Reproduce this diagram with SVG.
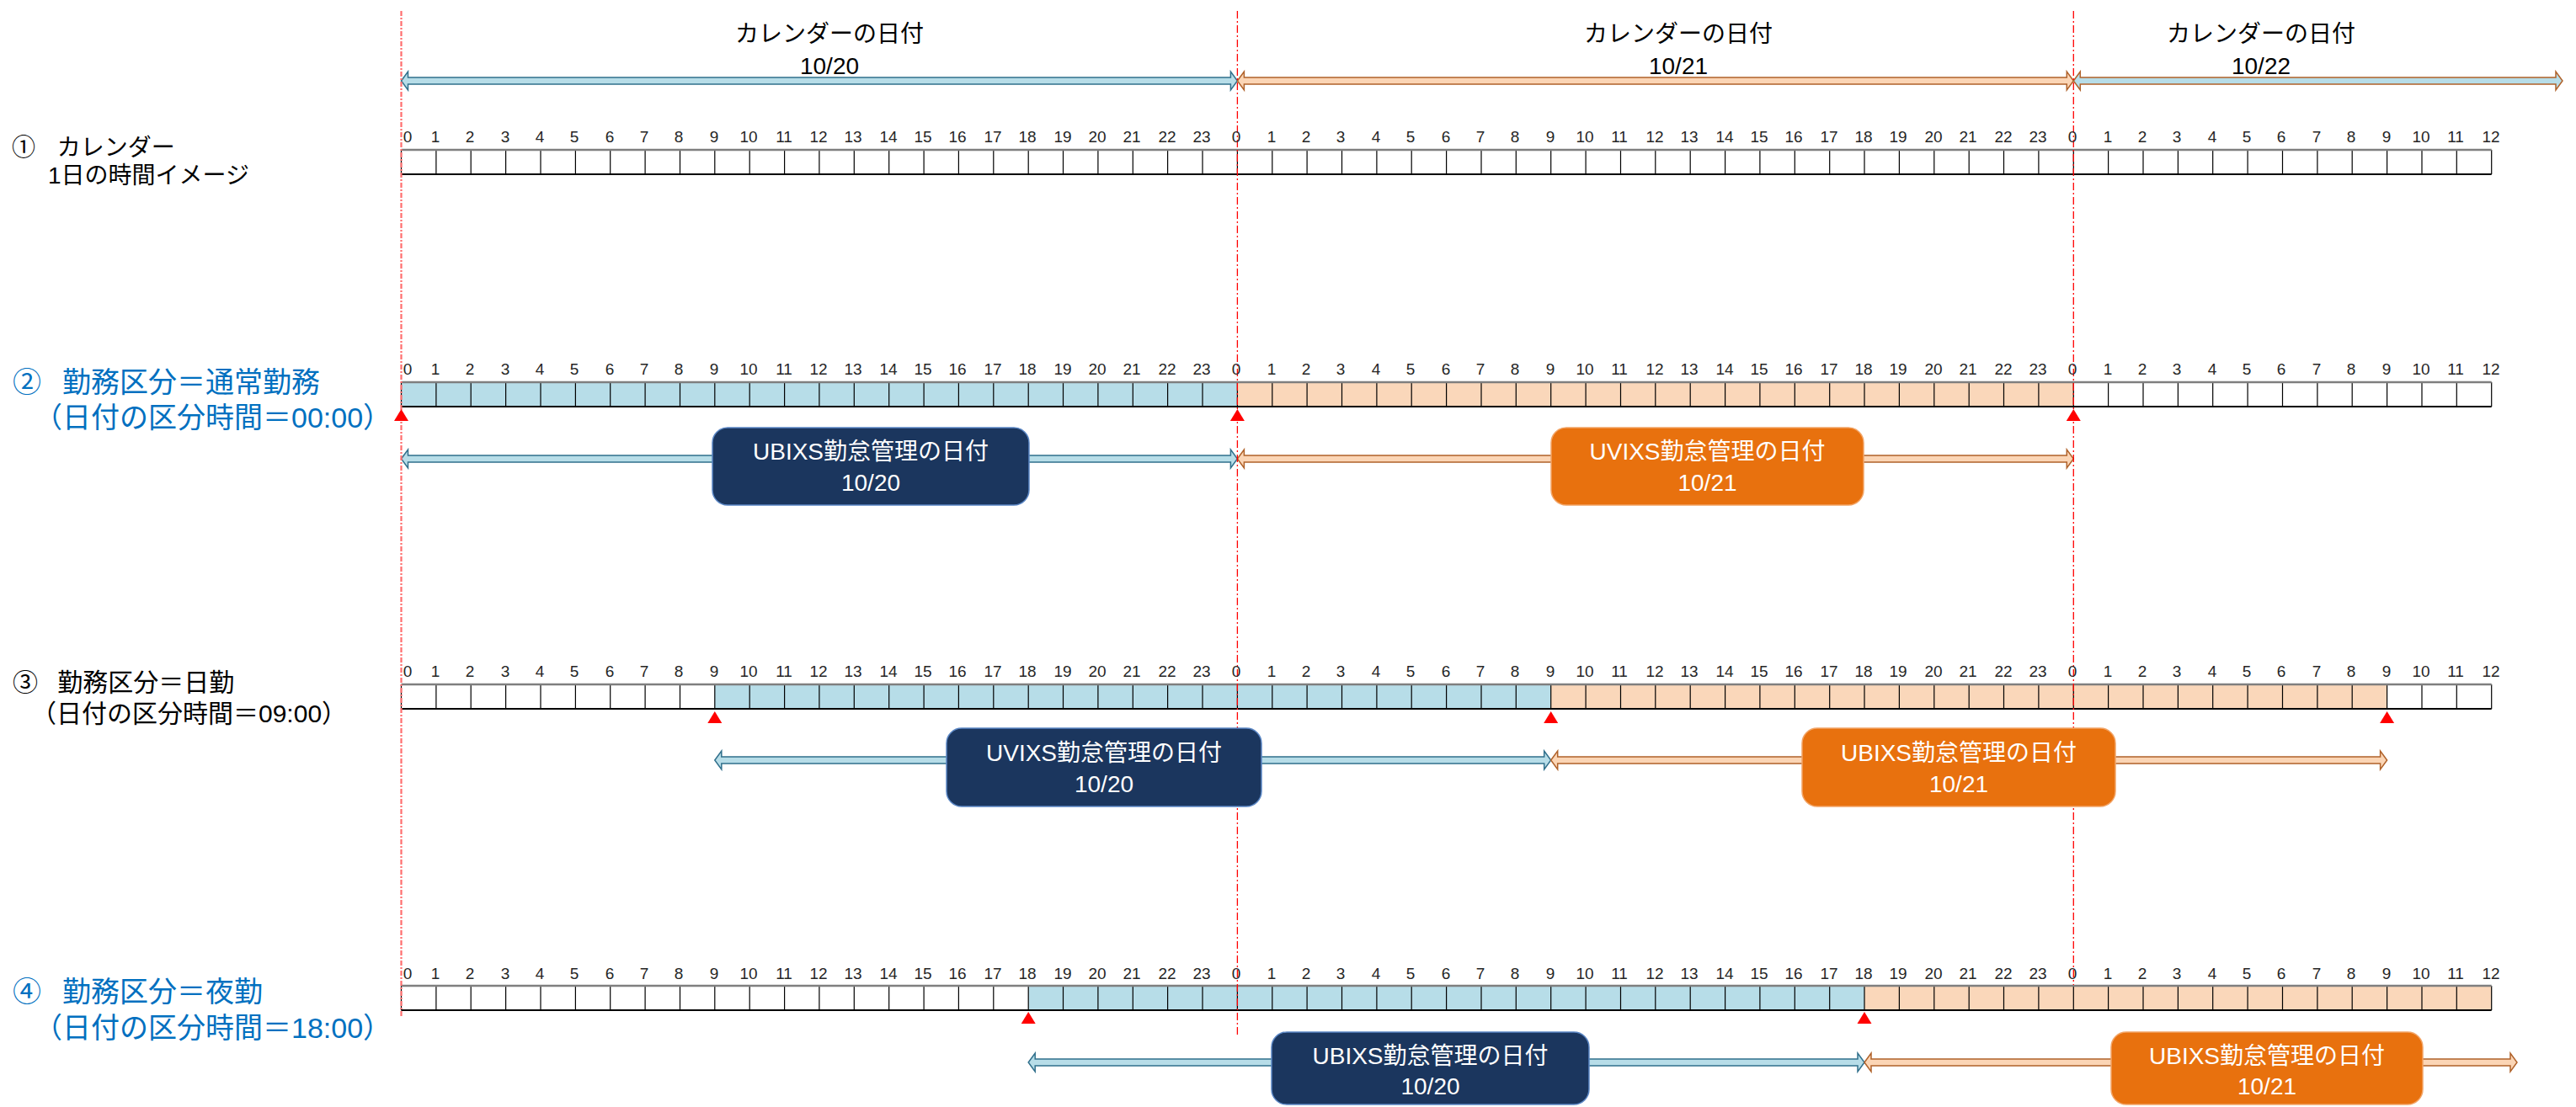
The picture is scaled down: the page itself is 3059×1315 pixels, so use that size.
<svg xmlns="http://www.w3.org/2000/svg" xmlns:xlink="http://www.w3.org/1999/xlink" width="3059" height="1315" viewBox="0 0 3059 1315">
<style>
.num{font-family:"Liberation Sans",Arial,sans-serif;font-size:19px;fill:#262626;text-anchor:middle}
.jp{font-family:"Liberation Sans","Noto Sans CJK JP","Noto Sans CJK SC",sans-serif}
.hdr{font-size:28px;fill:#000;text-anchor:middle}
.bx{font-size:28px;fill:#fff;text-anchor:middle}
.lbl1{font-size:28px;fill:#000}
.lblb{font-size:34px;fill:#0070C0}
.lbl3{font-size:30px;fill:#000}
.ab{fill:#B7DDE8;stroke:#31708C;stroke-width:1.5;stroke-linejoin:miter}
.ao{fill:#FBD5B5;stroke:#B0622A;stroke-width:1.5;stroke-linejoin:miter}
.cb{fill:#B7DDE8}
.co{fill:#FAD7BA}
.grid{stroke:#000;stroke-width:1.2;fill:none}
.topl{stroke:#7F7F7F;stroke-width:2.5}
.botl{stroke:#000;stroke-width:1.8}
.vl{stroke:#FF0000;stroke-width:1.3;stroke-dasharray:9 3 2 3;fill:none}
.nav{fill:#1B365E;stroke:#5B87C5;stroke-width:1.5}
.org{fill:#E8710E;stroke:#F2A466;stroke-width:1.5}
</style>
<defs>
<path id="cells" d="M476.5 0v29M517.9 0v29M559.2 0v29M600.6 0v29M642 0v29M683.4 0v29M724.7 0v29M766.1 0v29M807.5 0v29M848.8 0v29M890.2 0v29M931.6 0v29M972.9 0v29M1014.3 0v29M1055.7 0v29M1097.1 0v29M1138.4 0v29M1179.8 0v29M1221.2 0v29M1262.5 0v29M1303.9 0v29M1345.3 0v29M1386.6 0v29M1428 0v29M1469.4 0v29M1510.8 0v29M1552.1 0v29M1593.5 0v29M1634.9 0v29M1676.2 0v29M1717.6 0v29M1759 0v29M1800.3 0v29M1841.7 0v29M1883.1 0v29M1924.5 0v29M1965.8 0v29M2007.2 0v29M2048.6 0v29M2089.9 0v29M2131.3 0v29M2172.7 0v29M2214 0v29M2255.4 0v29M2296.8 0v29M2338.2 0v29M2379.5 0v29M2420.9 0v29M2462.3 0v29M2503.6 0v29M2545 0v29M2586.4 0v29M2627.7 0v29M2669.1 0v29M2710.5 0v29M2751.9 0v29M2793.2 0v29M2834.6 0v29M2876 0v29M2917.3 0v29M2958.7 0v29"/>
<path id="edges" d="M476.5 0H2958.7"/>
<path id="tri" d="M-8.5 14L0 0L8.5 14Z" fill="#FF0000"/>
</defs>

<!-- bars -->
<g id="row1-bar">
<rect x="476.5" y="178" width="2482.2" height="29" fill="#fff"/>
<use xlink:href="#cells" href="#cells" y="178" class="grid"/>
<use xlink:href="#edges" href="#edges" y="178" class="topl"/>
<use xlink:href="#edges" href="#edges" y="207" class="botl"/>
</g>
<g id="row2-bar">
<rect x="476.5" y="454" width="992.9" height="29" class="cb"/>
<rect x="1469.4" y="454" width="992.9" height="29" class="co"/>
<use xlink:href="#cells" href="#cells" y="454" class="grid"/>
<use xlink:href="#edges" href="#edges" y="454" class="topl"/>
<use xlink:href="#edges" href="#edges" y="483" class="botl"/>
</g>
<g id="row3-bar">
<rect x="848.8" y="813" width="992.9" height="29" class="cb"/>
<rect x="1841.7" y="813" width="992.9" height="29" class="co"/>
<use xlink:href="#cells" href="#cells" y="813" class="grid"/>
<use xlink:href="#edges" href="#edges" y="813" class="topl"/>
<use xlink:href="#edges" href="#edges" y="842" class="botl"/>
</g>
<g id="row4-bar">
<rect x="1221.2" y="1171" width="992.8" height="29" class="cb"/>
<rect x="2214" y="1171" width="744.7" height="29" class="co"/>
<use xlink:href="#cells" href="#cells" y="1171" class="grid"/>
<use xlink:href="#edges" href="#edges" y="1171" class="topl"/>
<use xlink:href="#edges" href="#edges" y="1200" class="botl"/>
</g>

<!-- connectors: span arrows -->
<g id="connectors">
<path class="ab" d="M476.5 96L484.5 85V92H1461.4V85L1469.4 96L1461.4 107V100H484.5V107Z"/>
<path class="ao" d="M1469.4 96L1477.4 85V92H2454.3V85L2462.3 96L2454.3 107V100H1477.4V107Z"/>
<path class="ab" style="stroke:#B0622A" d="M2462.3 96L2470.3 85V92H3035V85L3043 96L3035 107V100H2470.3V107Z"/>
<path class="ab" d="M476.5 545L484.5 534V541H1461.4V534L1469.4 545L1461.4 556V549H484.5V556Z"/>
<path class="ao" d="M1469.4 545L1477.4 534V541H2454.3V534L2462.3 545L2454.3 556V549H1477.4V556Z"/>
<path class="ab" d="M848.8 903L856.8 892V899H1833.7V892L1841.7 903L1833.7 914V907H856.8V914Z"/>
<path class="ao" d="M1841.7 903L1849.7 892V899H2826.6V892L2834.6 903L2826.6 914V907H1849.7V914Z"/>
<path class="ab" d="M1221.2 1262L1229.2 1251V1258H2206V1251L2214 1262L2206 1273V1266H1229.2V1273Z"/>
<path class="ao" d="M2214 1262L2222 1251V1258H2981V1251L2989 1262L2981 1273V1266H2222V1273Z"/>
</g>

<!-- day boundary lines -->
<g id="day-lines">
<path d="M476.5 13V1208" fill="none" stroke="#FF6E6E" stroke-width="2.2" stroke-dasharray="6 2 2 2"/>
<path class="vl" d="M1469.4 13V1232"/>
<path class="vl" d="M2462.3 13V1170"/>
</g>

<!-- markers -->
<g id="markers">
<use xlink:href="#tri" href="#tri" x="476.5" y="486"/>
<use xlink:href="#tri" href="#tri" x="1469.4" y="486"/>
<use xlink:href="#tri" href="#tri" x="2462.3" y="486"/>
<use xlink:href="#tri" href="#tri" x="848.8" y="845"/>
<use xlink:href="#tri" href="#tri" x="1841.7" y="845"/>
<use xlink:href="#tri" href="#tri" x="2834.6" y="845"/>
<use xlink:href="#tri" href="#tri" x="1221.2" y="1202"/>
<use xlink:href="#tri" href="#tri" x="2214" y="1202"/>
</g>

<!-- header labels -->
<g id="cal-1020" class="jp hdr"><text x="985" y="50">カレンダーの日付</text><text x="985" y="88">10/20</text></g>
<g id="cal-1021" class="jp hdr"><text x="1993" y="50">カレンダーの日付</text><text x="1993" y="88">10/21</text></g>
<g id="cal-1022" class="jp hdr"><text x="2685" y="50">カレンダーの日付</text><text x="2685" y="88">10/22</text></g>

<!-- boxes -->
<g id="box-r2-a"><rect class="nav" x="846" y="508" width="376" height="92" rx="18"/><text class="jp bx" x="1034" y="546">UBIXS勤怠管理の日付</text><text class="jp bx" x="1034" y="583">10/20</text></g>
<g id="box-r2-b"><rect class="org" x="1842" y="508" width="371" height="92" rx="18"/><text class="jp bx" x="2027.5" y="546">UVIXS勤怠管理の日付</text><text class="jp bx" x="2027.5" y="583">10/21</text></g>
<g id="box-r3-a"><rect class="nav" x="1124" y="865" width="374" height="93" rx="18"/><text class="jp bx" x="1311" y="904">UVIXS勤怠管理の日付</text><text class="jp bx" x="1311" y="941">10/20</text></g>
<g id="box-r3-b"><rect class="org" x="2140" y="865" width="372" height="93" rx="18"/><text class="jp bx" x="2326" y="904">UBIXS勤怠管理の日付</text><text class="jp bx" x="2326" y="941">10/21</text></g>
<g id="box-r4-a"><rect class="nav" x="1510" y="1226" width="377" height="86" rx="18"/><text class="jp bx" x="1698.5" y="1264">UBIXS勤怠管理の日付</text><text class="jp bx" x="1698.5" y="1300">10/20</text></g>
<g id="box-r4-b"><rect class="org" x="2507" y="1226" width="370" height="86" rx="18"/><text class="jp bx" x="2692" y="1264">UBIXS勤怠管理の日付</text><text class="jp bx" x="2692" y="1300">10/21</text></g>

<!-- left labels -->
<g id="label-1" class="jp lbl1"><text x="14" y="185">① <tspan dx="18">カレンダー</tspan></text><text x="57" y="218">1日の時間イメージ</text></g>
<g id="label-2" class="jp lblb"><text x="15" y="466">② <tspan dx="15.5">勤務区分＝通常勤務</tspan></text><text x="40" y="508">（日付の区分時間＝00:00）</text></g>
<g id="label-3" class="jp lbl3"><text x="15" y="821">③ <tspan dx="15">勤務区分＝日勤</tspan></text><text x="37" y="858">（日付の区分時間＝09:00）</text></g>
<g id="label-4" class="jp lblb"><text x="15" y="1190">④ <tspan dx="15.5">勤務区分＝夜勤</tspan></text><text x="40" y="1233">（日付の区分時間＝18:00）</text></g>

<!-- hour numbers -->
<g id="hours-r1" class="num" transform="translate(0,169)">
<text x="484">0</text><text x="517">1</text><text x="558">2</text><text x="600">3</text><text x="641">4</text><text x="682">5</text><text x="724">6</text><text x="765">7</text><text x="806">8</text><text x="848">9</text><text x="889">10</text><text x="931">11</text><text x="972">12</text><text x="1013">13</text><text x="1055">14</text><text x="1096">15</text><text x="1137">16</text><text x="1179">17</text><text x="1220">18</text><text x="1262">19</text><text x="1303">20</text><text x="1344">21</text><text x="1386">22</text><text x="1427">23</text><text x="1468">0</text><text x="1510">1</text><text x="1551">2</text><text x="1592">3</text><text x="1634">4</text><text x="1675">5</text><text x="1717">6</text><text x="1758">7</text><text x="1799">8</text><text x="1841">9</text><text x="1882">10</text><text x="1923">11</text><text x="1965">12</text><text x="2006">13</text><text x="2048">14</text><text x="2089">15</text><text x="2130">16</text><text x="2172">17</text><text x="2213">18</text><text x="2254">19</text><text x="2296">20</text><text x="2337">21</text><text x="2379">22</text><text x="2420">23</text><text x="2461">0</text><text x="2503">1</text><text x="2544">2</text><text x="2585">3</text><text x="2627">4</text><text x="2668">5</text><text x="2709">6</text><text x="2751">7</text><text x="2792">8</text><text x="2834">9</text><text x="2875">10</text><text x="2916">11</text><text x="2958">12</text>
</g>
<g id="hours-r2" class="num" transform="translate(0,445)">
<text x="484">0</text><text x="517">1</text><text x="558">2</text><text x="600">3</text><text x="641">4</text><text x="682">5</text><text x="724">6</text><text x="765">7</text><text x="806">8</text><text x="848">9</text><text x="889">10</text><text x="931">11</text><text x="972">12</text><text x="1013">13</text><text x="1055">14</text><text x="1096">15</text><text x="1137">16</text><text x="1179">17</text><text x="1220">18</text><text x="1262">19</text><text x="1303">20</text><text x="1344">21</text><text x="1386">22</text><text x="1427">23</text><text x="1468">0</text><text x="1510">1</text><text x="1551">2</text><text x="1592">3</text><text x="1634">4</text><text x="1675">5</text><text x="1717">6</text><text x="1758">7</text><text x="1799">8</text><text x="1841">9</text><text x="1882">10</text><text x="1923">11</text><text x="1965">12</text><text x="2006">13</text><text x="2048">14</text><text x="2089">15</text><text x="2130">16</text><text x="2172">17</text><text x="2213">18</text><text x="2254">19</text><text x="2296">20</text><text x="2337">21</text><text x="2379">22</text><text x="2420">23</text><text x="2461">0</text><text x="2503">1</text><text x="2544">2</text><text x="2585">3</text><text x="2627">4</text><text x="2668">5</text><text x="2709">6</text><text x="2751">7</text><text x="2792">8</text><text x="2834">9</text><text x="2875">10</text><text x="2916">11</text><text x="2958">12</text>
</g>
<g id="hours-r3" class="num" transform="translate(0,804)">
<text x="484">0</text><text x="517">1</text><text x="558">2</text><text x="600">3</text><text x="641">4</text><text x="682">5</text><text x="724">6</text><text x="765">7</text><text x="806">8</text><text x="848">9</text><text x="889">10</text><text x="931">11</text><text x="972">12</text><text x="1013">13</text><text x="1055">14</text><text x="1096">15</text><text x="1137">16</text><text x="1179">17</text><text x="1220">18</text><text x="1262">19</text><text x="1303">20</text><text x="1344">21</text><text x="1386">22</text><text x="1427">23</text><text x="1468">0</text><text x="1510">1</text><text x="1551">2</text><text x="1592">3</text><text x="1634">4</text><text x="1675">5</text><text x="1717">6</text><text x="1758">7</text><text x="1799">8</text><text x="1841">9</text><text x="1882">10</text><text x="1923">11</text><text x="1965">12</text><text x="2006">13</text><text x="2048">14</text><text x="2089">15</text><text x="2130">16</text><text x="2172">17</text><text x="2213">18</text><text x="2254">19</text><text x="2296">20</text><text x="2337">21</text><text x="2379">22</text><text x="2420">23</text><text x="2461">0</text><text x="2503">1</text><text x="2544">2</text><text x="2585">3</text><text x="2627">4</text><text x="2668">5</text><text x="2709">6</text><text x="2751">7</text><text x="2792">8</text><text x="2834">9</text><text x="2875">10</text><text x="2916">11</text><text x="2958">12</text>
</g>
<g id="hours-r4" class="num" transform="translate(0,1163)">
<text x="484">0</text><text x="517">1</text><text x="558">2</text><text x="600">3</text><text x="641">4</text><text x="682">5</text><text x="724">6</text><text x="765">7</text><text x="806">8</text><text x="848">9</text><text x="889">10</text><text x="931">11</text><text x="972">12</text><text x="1013">13</text><text x="1055">14</text><text x="1096">15</text><text x="1137">16</text><text x="1179">17</text><text x="1220">18</text><text x="1262">19</text><text x="1303">20</text><text x="1344">21</text><text x="1386">22</text><text x="1427">23</text><text x="1468">0</text><text x="1510">1</text><text x="1551">2</text><text x="1592">3</text><text x="1634">4</text><text x="1675">5</text><text x="1717">6</text><text x="1758">7</text><text x="1799">8</text><text x="1841">9</text><text x="1882">10</text><text x="1923">11</text><text x="1965">12</text><text x="2006">13</text><text x="2048">14</text><text x="2089">15</text><text x="2130">16</text><text x="2172">17</text><text x="2213">18</text><text x="2254">19</text><text x="2296">20</text><text x="2337">21</text><text x="2379">22</text><text x="2420">23</text><text x="2461">0</text><text x="2503">1</text><text x="2544">2</text><text x="2585">3</text><text x="2627">4</text><text x="2668">5</text><text x="2709">6</text><text x="2751">7</text><text x="2792">8</text><text x="2834">9</text><text x="2875">10</text><text x="2916">11</text><text x="2958">12</text>
</g>
</svg>
